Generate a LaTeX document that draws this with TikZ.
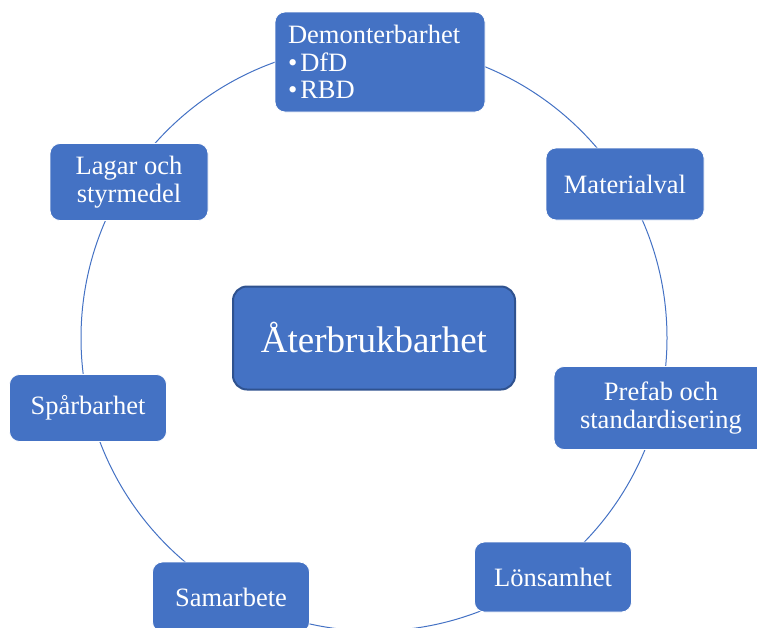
\documentclass[tikz,border=0pt]{standalone}
\usepackage{fontspec}
\setmainfont{Liberation Serif}
\definecolor{officeBlue}{HTML}{4472C4}
\definecolor{hubBorder}{HTML}{2F528F}
\tikzstyle{topicBox}=[shape = rectangle, rounded corners = 10pt, fill = officeBlue, draw = white, line width = 0.8pt, text = white, minimum width = 157pt, minimum height = 70pt, inner sep = 4pt, align = center, font = \fontsize{26.5}{27.5}\selectfont]
\tikzstyle{hubBox}=[shape = rectangle, rounded corners = 14pt, fill = officeBlue, draw = hubBorder, line width = 2pt, text = white, minimum width = 282pt, minimum height = 103pt, font = \fontsize{37}{40}\selectfont]
\tikzstyle{ringStyle}=[draw = officeBlue, line width = 1pt]

\begin{document}
\begin{tikzpicture}[x = 1pt, y = -1pt]
\useasboundingbox (0,0) rectangle (757,627);
\node[hubBox] (hub) at (374,338) {Återbrukbarhet};
\draw[ringStyle] (hub.center) circle (293pt);
\node[topicBox, text width = 184pt, align = left, inner xsep = 13pt, minimum height = 100pt] (demont) at (380,62) {Demonterbarhet\\\textbullet\hspace{3pt}DfD\\\textbullet\hspace{3pt}RBD};
\node[topicBox, minimum width = 158pt, minimum height = 72pt] (material) at (625,184) {Materialval};
\node[topicBox, minimum width = 214pt, minimum height = 83pt] (prefab) at (661,408) {Prefab och\\standardisering};
\node[topicBox] (lonsam) at (553,577) {Lönsamhet};
\node[topicBox] (samarb) at (231,597) {Samarbete};
\node[topicBox, minimum height = 67pt] (sparb) at (88,408) {Spårbarhet};
\node[topicBox, minimum width = 158pt, minimum height = 77pt] (lagar) at (129,182) {Lagar och\\styrmedel};
\end{tikzpicture}
\end{document}
